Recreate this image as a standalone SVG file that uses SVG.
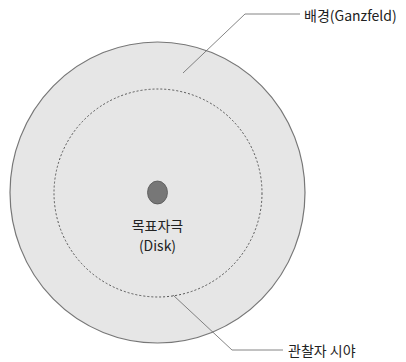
<svg xmlns="http://www.w3.org/2000/svg" width="406" height="362" viewBox="0 0 406 362">
<style>
text{font-family:"Noto Sans CJK KR","Noto Sans",sans-serif;font-size:14px;fill:#222}
.lead{fill:none;stroke:#666;stroke-width:0.8}
</style>
<rect width="406" height="362" fill="#fff"/>
<g id="background">
<ellipse cx="157.5" cy="192.5" rx="147.5" ry="150.5" fill="#e6e6e6" stroke="#777" stroke-width="1.2"/>
</g>
<g id="field">
<circle cx="158" cy="193" r="104" fill="none" stroke="#555" stroke-width="1" stroke-dasharray="2,2"/>
</g>
<g id="disk">
<ellipse cx="157.5" cy="192.5" rx="10" ry="11.5" fill="#777" stroke="#555" stroke-width="0.8"/>
<text x="157.5" y="231" text-anchor="middle">목표자극</text>
<text x="157.5" y="251" text-anchor="middle">(Disk)</text>
</g>
<g id="connectors">
<polyline class="lead" points="183,73 245,14 300,14"/>
<polyline class="lead" points="173,295 232,350 283,350"/>
</g>
<g id="label-bg"><text x="304" y="21">배경(Ganzfeld)</text></g>
<g id="label-field"><text x="288" y="356">관찰자 시야</text></g>
</svg>
